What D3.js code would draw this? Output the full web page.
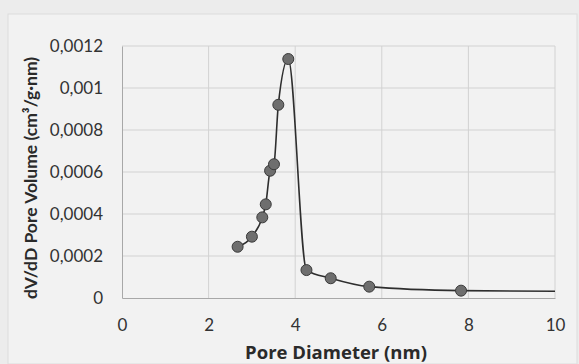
<!DOCTYPE html>
<html>
<head>
<meta charset="utf-8">
<script src="https://cdn.jsdelivr.net/npm/d3@7"></script>
<style>
  body { margin: 0; background: #ececec; }
  svg { display: block; }
</style>
</head>
<body>
<figure id="chart" style="margin:0"></figure>
<script>
// pore size distribution
const poreDiameter = [2.67, 3.0, 3.24, 3.32, 3.42, 3.51, 3.61, 3.84, 4.26, 4.82, 5.71, 7.83, 10.0];
const poreVolume = [0.000244, 0.000292, 0.000384, 0.000446, 0.000606, 0.000637, 0.00092, 0.001138,
  0.000133, 0.000094, 0.000054, 0.000035, 0.000032];
// last entry is only where the line leaves the plot, no marker there
const hasMarker = [true, true, true, true, true, true, true, true, true, true, true, true, false];
const xTicks = [0, 2, 4, 6, 8, 10];
const yTicks = [0, 0.0002, 0.0004, 0.0006, 0.0008, 0.001, 0.0012];

const W = 579, H = 364;
const margin = { left: 122, right: 24, top: 46, bottom: 66 };

const data = poreDiameter.map((d, i) => ({ x: d, y: poreVolume[i], m: hasMarker[i] }));

const svg = d3.select("#chart").append("svg")
  .attr("width", W).attr("height", H);

// chart area (paper)
svg.append("rect")
  .attr("x", 8).attr("y", 14).attr("width", W - 10).attr("height", H - 14)
  .attr("fill", "#f2f2f2").attr("stroke", "#dcdcdc");

const x = d3.scaleLinear().domain([0, 10]).range([margin.left, W - margin.right]);
const y = d3.scaleLinear().domain([0, 0.0012]).range([H - margin.bottom, margin.top]);

const font = "Lato, 'Open Sans', sans-serif";

// gridlines
svg.append("g").selectAll("line.h")
  .data(yTicks.slice(1))
  .enter().append("line")
  .attr("x1", x(0)).attr("x2", x(10))
  .attr("y1", d => y(d)).attr("y2", d => y(d))
  .attr("stroke", "#d2d2d2").attr("stroke-width", 1);

svg.append("g").selectAll("line.v")
  .data(xTicks.slice(1))
  .enter().append("line")
  .attr("x1", d => x(d)).attr("x2", d => x(d))
  .attr("y1", y(0)).attr("y2", y(0.0012))
  .attr("stroke", "#d2d2d2").attr("stroke-width", 1);

// axes
const yAxis = svg.append("g")
  .attr("transform", "translate(" + x(0) + ",0)")
  .call(d3.axisLeft(y).tickValues(yTicks).tickSize(0).tickPadding(19)
    .tickFormat(d => d === 0 ? "0" : String(+d.toFixed(4)).replace(".", ",")));
yAxis.select(".domain").attr("stroke", "#a8a8a8");
yAxis.selectAll("text").attr("font-family", font).attr("font-size", 17).attr("fill", "#333");

const xAxis = svg.append("g")
  .attr("transform", "translate(0," + y(0) + ")")
  .call(d3.axisBottom(x).tickValues(xTicks).tickSize(0).tickPadding(21));
xAxis.select(".domain").attr("stroke", "#a8a8a8");
xAxis.selectAll("text").attr("font-family", font).attr("font-size", 17).attr("fill", "#333");

// axis titles
svg.append("text")
  .attr("transform", "translate(37," + 178 + ") rotate(-90)")
  .attr("text-anchor", "middle")
  .attr("font-family", font).attr("font-size", 17.5).attr("font-weight", "bold").attr("fill", "#2a2a2a")
  .text("dV/dD Pore Volume (cm³/g·nm)");

svg.append("text")
  .attr("x", 336).attr("y", 359)
  .attr("text-anchor", "middle")
  .attr("font-family", "'Open Sans', sans-serif").attr("font-size", 18.5).attr("font-weight", "bold").attr("fill", "#2a2a2a")
  .text("Pore Diameter (nm)");

// series line
const line = d3.line()
  .x(d => x(d.x)).y(d => y(d.y))
  .curve(d3.curveMonotoneX);

svg.append("path")
  .datum(data)
  .attr("d", line)
  .attr("fill", "none")
  .attr("stroke", "#2e2e2e")
  .attr("stroke-width", 1.6);

// markers
svg.append("g").selectAll("circle")
  .data(data.filter(d => d.m))
  .enter().append("circle")
  .attr("cx", d => x(d.x)).attr("cy", d => y(d.y))
  .attr("r", 5.5)
  .attr("fill", "#6e6e6e")
  .attr("stroke", "#3a3a3a")
  .attr("stroke-width", 1);
</script>
</body>
</html>
